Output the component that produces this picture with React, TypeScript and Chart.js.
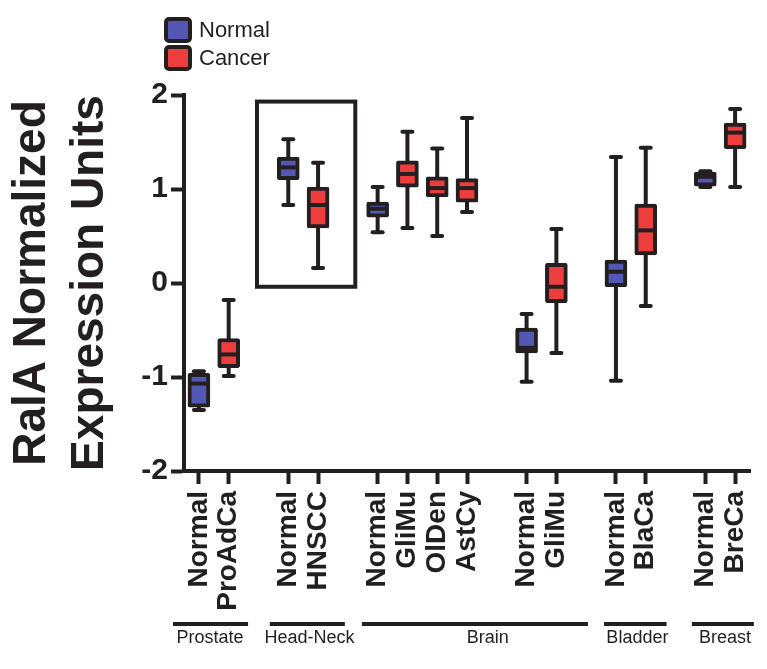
import React, { useEffect, useRef } from 'react';
import { Chart, registerables } from 'chart.js';

Chart.register(...registerables);

// ---- data ----
const categories = ['Normal', 'ProAdCa', '', 'Normal', 'HNSCC', '', 'Normal', 'GliMu', 'OlDen', 'AstCy', '', 'Normal', 'GliMu', '', 'Normal', 'BlaCa', '', 'Normal', 'BreCa'];
const kinds = ['N', 'C', '', 'N', 'C', '', 'N', 'C', 'C', 'C', '', 'N', 'C', '', 'N', 'C', '', 'N', 'C'];
const whiskerLow = [-1.35, -0.99, null, 0.83, 0.16, null, 0.54, 0.585, 0.5, 0.755, null, -1.05, -0.745, null, -1.04, -0.245, null, 1.02, 1.02];
const quartile1 = [-1.32, -0.9, null, 1.1, 0.585, null, 0.7, 1.02, 0.915, 0.86, null, -0.745, -0.21, null, -0.04, 0.3, null, 1.03, 1.43];
const medians = [-1.07, -0.76, null, 1.23, 0.83, null, 0.79, 1.16, 1.01, 1.01, null, -0.69, -0.04, null, 0.12, 0.56, null, 1.13, 1.6];
const quartile3 = [-0.96, -0.59, null, 1.34, 1.02, null, 0.86, 1.3, 1.13, 1.11, null, -0.48, 0.21, null, 0.245, 0.84, null, 1.18, 1.7];
const whiskerHigh = [-0.94, -0.18, null, 1.53, 1.28, null, 1.02, 1.61, 1.43, 1.755, null, -0.33, 0.575, null, 1.34, 1.44, null, 1.19, 1.85];
const yTicks = [-2, -1, 0, 1, 2];
const legendLabels = ['Normal', 'Cancer'];
const groupNames = ['Prostate', 'Head-Neck', 'Brain', 'Bladder', 'Breast'];
const groupStart = [-0.87, 2.38, 5.47, 13.6, 16.55];
const groupEnd = [1.65, 4.9, 13.06, 15.7, 18.63];
const groupLabelAt = [0.37, 3.71, 9.7, 14.72, 17.66];
const highlightX = [1.95, 5.25];
const highlightY = [1.93, -0.04];

// ---- styles ----
const BLUE = '#5557b4';
const RED = '#ee3d3d';
const INK = '#231f20';
const FONT = '"Liberation Sans", Arial, sans-serif';

const boxPlugin = {
  id: 'boxParts',
  beforeDatasetsDraw(chart: any) {
    const { ctx } = chart;
    const x = chart.scales.x;
    const y = chart.scales.y;
    ctx.save();
    ctx.strokeStyle = INK;
    ctx.lineWidth = 4;
    categories.forEach((_, i) => {
      if (whiskerLow[i] == null || whiskerHigh[i] == null) return;
      const px = x.getPixelForValue(i);
      ctx.lineCap = 'butt';
      ctx.beginPath();
      ctx.moveTo(px, y.getPixelForValue(whiskerHigh[i]));
      ctx.lineTo(px, y.getPixelForValue(whiskerLow[i]));
      ctx.stroke();
      ctx.lineCap = 'round';
      [whiskerHigh[i], whiskerLow[i]].forEach((v) => {
        const py = y.getPixelForValue(v);
        ctx.beginPath();
        ctx.moveTo(px - 5, py);
        ctx.lineTo(px + 5, py);
        ctx.stroke();
      });
    });
    ctx.restore();
  },
  afterDatasetsDraw(chart: any) {
    const { ctx } = chart;
    const x = chart.scales.x;
    const y = chart.scales.y;
    ctx.save();
    ctx.strokeStyle = INK;
    ctx.lineWidth = 4;
    ctx.lineCap = 'butt';
    categories.forEach((_, i) => {
      if (medians[i] == null) return;
      const px = x.getPixelForValue(i);
      const py = y.getPixelForValue(medians[i]);
      ctx.beginPath();
      ctx.moveTo(px - 10, py);
      ctx.lineTo(px + 10, py);
      ctx.stroke();
    });
    // highlight rectangle
    const rx0 = x.getPixelForValue(highlightX[0]);
    const rx1 = x.getPixelForValue(highlightX[1]);
    const ry0 = y.getPixelForValue(highlightY[0]);
    const ry1 = y.getPixelForValue(highlightY[1]);
    ctx.lineJoin = 'miter';
    ctx.strokeRect(rx0, ry0, rx1 - rx0, ry1 - ry0);
    ctx.restore();
  },
  afterDraw(chart: any) {
    const { ctx, chartArea } = chart;
    const x = chart.scales.x;
    ctx.save();
    // group brackets
    ctx.strokeStyle = INK;
    ctx.lineWidth = 4;
    ctx.lineCap = 'butt';
    ctx.fillStyle = INK;
    ctx.font = '18px ' + FONT;
    ctx.textAlign = 'center';
    ctx.textBaseline = 'middle';
    groupNames.forEach((name, i) => {
      const ly = chartArea.bottom + 153;
      ctx.beginPath();
      ctx.moveTo(x.getPixelForValue(groupStart[i]), ly);
      ctx.lineTo(x.getPixelForValue(groupEnd[i]), ly);
      ctx.stroke();
      ctx.fillText(name, x.getPixelForValue(groupLabelAt[i]), chartArea.bottom + 167);
    });
    // legend
    const colors = [BLUE, RED];
    ctx.textAlign = 'left';
    ctx.font = '22px ' + FONT;
    legendLabels.forEach((lab, i) => {
      const top = 17 + i * 28;
      ctx.beginPath();
      (ctx as any).roundRect(166, top + 2, 24, 22, 3);
      ctx.fillStyle = colors[i];
      ctx.fill();
      ctx.lineWidth = 4;
      ctx.strokeStyle = INK;
      ctx.stroke();
      ctx.fillStyle = INK;
      ctx.fillText(lab, 199, top + 14);
    });
    ctx.restore();
  },
};

export default function App() {
  const ref = useRef<HTMLCanvasElement | null>(null);
  useEffect(() => {
    if (!ref.current) return;
    const normalData = categories.map((_, i) => (kinds[i] === 'N' ? [quartile1[i], quartile3[i]] : null));
    const cancerData = categories.map((_, i) => (kinds[i] === 'C' ? [quartile1[i], quartile3[i]] : null));
    const barStyle = {
      borderColor: INK,
      borderWidth: 4,
      borderSkipped: false,
      borderRadius: 2,
      barThickness: 22,
      grouped: false,
    };
    const chart = new Chart(ref.current, {
      type: 'bar',
      data: {
        labels: categories,
        datasets: [
          { label: legendLabels[0], data: normalData as any, backgroundColor: BLUE, ...barStyle } as any,
          { label: legendLabels[1], data: cancerData as any, backgroundColor: RED, ...barStyle } as any,
        ],
      },
      options: {
        responsive: false,
        animation: false,
        events: [],
        layout: { padding: { top: 95, right: 17, bottom: 0, left: 0 } },
        plugins: { legend: { display: false }, tooltip: { enabled: false } },
        scales: {
          x: {
            type: 'category',
            offset: true,
            afterFit: (s: any) => {
              s.height = 198;
              s.paddingLeft = 0;
              s.paddingRight = 0;
            },
            grid: {
              offset: false,
              drawOnChartArea: false,
              drawTicks: true,
              tickLength: 13,
              tickWidth: 4,
              tickColor: (c: any) => (categories[c.index] ? INK : 'rgba(0,0,0,0)'),
            },
            border: { display: true, color: INK, width: 4 },
            ticks: {
              autoSkip: false,
              maxRotation: 90,
              minRotation: 90,
              padding: 7,
              color: INK,
              font: { family: FONT, size: 28, weight: 'bold' },
            },
          },
          y: {
            min: -2,
            max: 2,
            afterFit: (s: any) => {
              s.width = 184;
              s.paddingTop = 0;
              s.paddingBottom = 0;
            },
            afterBuildTicks: (s: any) => { s.ticks = yTicks.map((v) => ({ value: v })); },
            grid: {
              drawOnChartArea: false,
              drawTicks: true,
              tickLength: 13,
              tickWidth: 4,
              tickColor: INK,
            },
            border: { display: true, color: INK, width: 4 },
            ticks: {
              padding: 3,
              color: INK,
              font: { family: FONT, size: 30, weight: 'bold' },
            },
            title: {
              display: true,
              text: ['RalA Normalized', 'Expression Units'],
              color: INK,
              padding: { top: 3, bottom: 0 },
              font: { family: FONT, size: 46, weight: 'bold', lineHeight: 58 / 46 },
            },
          },
        },
      },
      plugins: [boxPlugin],
    } as any);
    return () => chart.destroy();
  }, []);
  return (
    <div style={{ position: 'fixed', left: 0, top: 0, width: 767, height: 669, background: '#fff' }}>
      <canvas ref={ref} width={767} height={669} style={{ display: 'block' }} />
    </div>
  );
}
